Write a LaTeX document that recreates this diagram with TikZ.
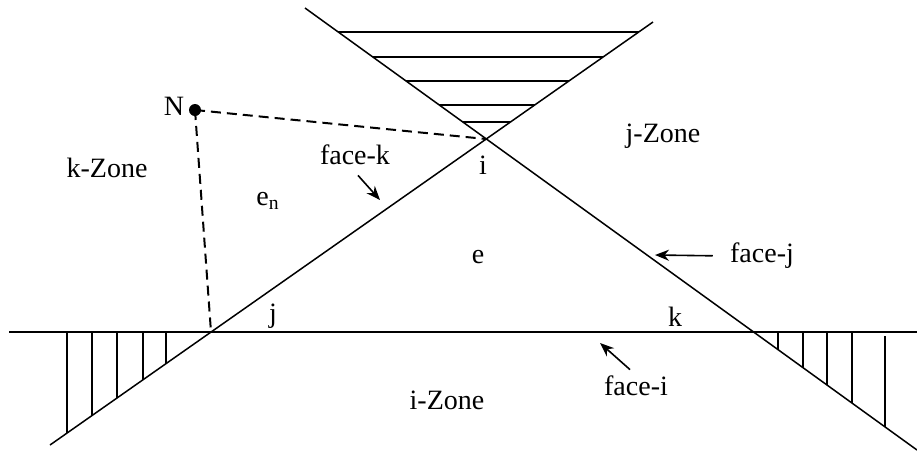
\documentclass[tikz,border=0pt]{standalone}
\usepackage{fontspec}
\setmainfont{Liberation Serif}
\usetikzlibrary{arrows.meta,calc}
\tikzset{
  faceline/.style={line width=0.75pt, color=black},
  hatchline/.style={line width=0.9pt, color=black},
  projline/.style={line width=1pt, dash pattern=on 5pt off 3pt},
  zonelabel/.style={font=\fontsize{14}{16}\selectfont, inner sep=1pt},
  vertlabel/.style={font=\fontsize{14}{16}\selectfont, inner sep=1pt},
  pointer/.style={-{Stealth[length=7pt, width=5.5pt]}, line width=0.8pt},
}

\begin{document}
\begin{tikzpicture}[x=0.5pt, y=-0.5pt]
\useasboundingbox (0,0) rectangle (917,452);
% end points of the three faces
\coordinate (fk1) at (50,445);
\coordinate (fk2) at (653,22);
\coordinate (fj1) at (305,8);
\coordinate (fj2) at (917,450);
\coordinate (fi1) at (9,332);
\coordinate (fi2) at (917,332);
% corners of element e
\coordinate (i) at (486,139);
\coordinate (j) at (211,332);
\coordinate (k) at (754,332);
\coordinate (N) at (195,110);

\draw[faceline] (fk1) -- (fk2);
\draw[faceline] (fj1) -- (fj2);
\draw[faceline] (fi1) -- (fi2);

% hatching of the three zones
\begin{scope}
  \clip (i) -- (293.9,0) -- (684.4,0) -- cycle;
  \foreach \y in {32,57,81,105,122}
    \draw[hatchline] (250,\y) -- (720,\y);
\end{scope}
\begin{scope}
  \clip (j) -- (0,332) -- (0,480) -- cycle;
  \foreach \x in {67,92,117,143,166}
    \draw[hatchline] (\x,332) -- (\x,452);
\end{scope}
\begin{scope}
  \clip (k) -- (917,332) -- (917,450) -- cycle;
  \foreach \x/\t in {778/332,803/332,827/332,852/332,885/336}
    \draw[hatchline] (\x,\t) -- (\x,452);
\end{scope}

% neighbour point
\draw[projline] (N) -- (i);
\draw[projline] (N) -- (j);
\fill (N) circle (3pt);

\node[zonelabel] (kzone) at (107,168) {k-Zone};
\node[zonelabel] (jzone) at (663,136) {j-Zone};
\node[zonelabel] (izone) at (447,400) {i-Zone};
\node[vertlabel] (Nlab) at (174,106) {N};
\node[vertlabel] (ilab) at (483,165) {i};
\node[vertlabel] (jlab) at (273,316) {j};
\node[vertlabel] (klab) at (675,317) {k};
\node[vertlabel] (elab) at (478,257) {e};
\node[vertlabel] (enlab) at (268,201) {e\textsubscript{n}};

\node[zonelabel] (fklab) at (355,155) {face-k};
\node[zonelabel] (fjlab) at (762,256) {face-j};
\node[zonelabel] (filab) at (636,386) {face-i};
\coordinate (fkpt) at (380,200);
\coordinate (fjpt) at (655,255);
\coordinate (fipt) at (600,343);
\draw[pointer] ([xshift=1.5pt, yshift=-4pt]fklab.south) -- (fkpt);
\draw[pointer, shorten <=7.5pt] (fjlab.west) -- (fjpt);
\draw[pointer] ([xshift=-3pt, yshift=2pt]filab.north) -- (fipt);
\end{tikzpicture}
\end{document}
